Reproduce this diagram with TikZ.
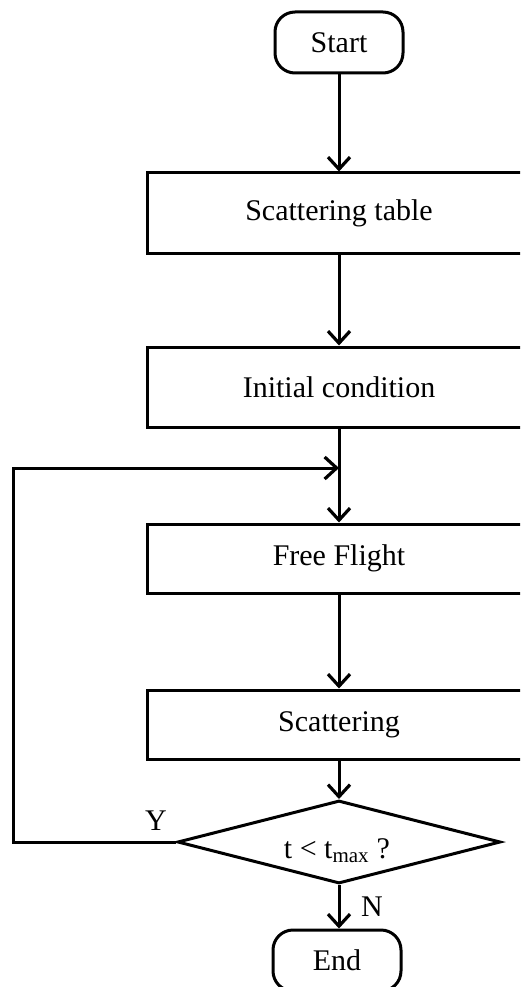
\documentclass[tikz,border=0pt]{standalone}
\usepackage{fontspec}
\setmainfont{Liberation Serif}
\usetikzlibrary{shapes.geometric,arrows.meta}
\begin{document}
\begin{tikzpicture}[x=1pt,y=-1pt,
  every node/.style={font=\fontsize{30}{34}\selectfont},
  line/.style={line width=3pt},
  flow/.style={line, -{Straight Barb[length=12pt,width=22pt,line width=3.2pt]}},
  terminal/.style={draw, line width=3pt, rounded corners=20pt, minimum width=128, minimum height=61, inner sep=0pt},
  process/.style={draw, line width=3pt, minimum width=384, inner sep=0pt},
  decision/.style={draw, line width=3pt, diamond, aspect=3.9, minimum width=323, minimum height=83, inner sep=0pt}
]
\useasboundingbox (0,0) rectangle (520,987);
\clip (0,0) rectangle (520,987);

% main column
\node[terminal] (start) at (339,42.5) {Start};
\node[process, minimum height=80] (table) at (339,213) {Scattering table};
\node[process, minimum height=80] (init) at (339,387) {Initial condition};
\node[process, minimum height=69] (flight) at (339,558.5) {Free Flight};
\node[process, minimum height=69] (scat) at (339,724.5) {Scattering};
\node[decision] (test) at (339,842) {};
\node at (337,851) {t < t\textsubscript{max} ?};
\node[terminal] (end) at (337,960.5) {End};

% loop-back junction
\coordinate (join) at (339,468);
\coordinate (cornerA) at (13,842);
\coordinate (cornerB) at (13,468);

% connectors
\draw[flow] (start) -- (table);
\draw[flow] (table) -- (init);
\draw[flow] (init) -- (flight);
\draw[flow] (flight) -- (scat);
\draw[flow] (scat) -- (test);
\draw[flow] (test) -- (test |- end.north);
\draw[flow] (test.west) -- (cornerA) -- (cornerB) -- (join);

% branch labels
\node (ylab) at (156,821) {Y};
\node (nlab) at (372,907) {N};
\end{tikzpicture}
\end{document}
